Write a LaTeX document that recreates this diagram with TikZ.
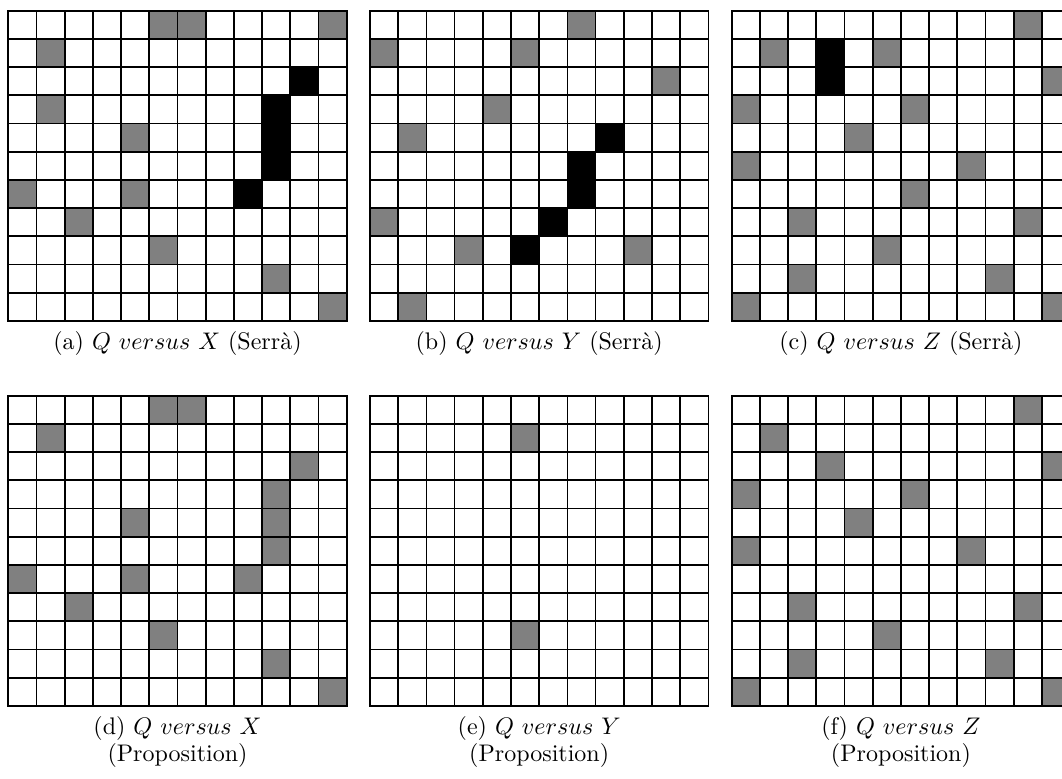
\documentclass[tikz,border=0pt]{standalone}
\usepackage{fontspec}
\tikzset{
  cellgray/.style={fill=gray, draw=black, line width=0.7pt},
  cellblack/.style={fill=black, draw=black, line width=0.7pt},
  gridline/.style={draw=black, line width=0.7pt},
  capt/.style={font=\fontsize{10pt}{9.4pt}\selectfont, align=center, inner sep=0pt},
  panel/.style={x=11.75pt, y=11.75pt},
}
\newcommand\gridlines{%
  \foreach \i in {1,...,11} \draw[gridline] (\i,0) -- (\i,11);
  \foreach \j in {1,...,10} \draw[gridline] (0,\j) -- (12,\j);
  \draw[gridline] (0,0) rectangle (12,11);
}
\begin{document}
\begin{tikzpicture}[x=0.41667pt, y=-0.41667pt]
\useasboundingbox (0,0) rectangle (1062,778);
\clip (0,0) rectangle (1062,778);

% (a)
\begin{scope}[shift={(8.3,320.9)}, panel]
  \foreach \c/\r in {5/0,6/0,11/0,1/1,1/3,4/4,0/6,4/6,2/7,5/8,9/9,11/10}
    \filldraw[cellgray] (\c,10-\r) rectangle ++(1,1);
  \foreach \c/\r in {10/2,9/3,9/4,9/5,8/6}
    \filldraw[cellblack] (\c,10-\r) rectangle ++(1,1);
  \gridlines
\end{scope}
% (b)
\begin{scope}[shift={(370,320.9)}, panel]
  \foreach \c/\r in {7/0,0/1,5/1,10/2,4/3,1/4,0/7,3/8,9/8,1/10}
    \filldraw[cellgray] (\c,10-\r) rectangle ++(1,1);
  \foreach \c/\r in {8/4,7/5,7/6,6/7,5/8}
    \filldraw[cellblack] (\c,10-\r) rectangle ++(1,1);
  \gridlines
\end{scope}
% (c)
\begin{scope}[shift={(731.7,320.9)}, panel]
  \foreach \c/\r in {10/0,1/1,5/1,11/2,0/3,6/3,4/4,0/5,8/5,6/6,2/7,10/7,5/8,2/9,9/9,0/10,11/10}
    \filldraw[cellgray] (\c,10-\r) rectangle ++(1,1);
  \foreach \c/\r in {3/1,3/2}
    \filldraw[cellblack] (\c,10-\r) rectangle ++(1,1);
  \gridlines
\end{scope}
% (d)
\begin{scope}[shift={(8.3,705.9)}, panel]
  \foreach \c/\r in {5/0,6/0,1/1,10/2,9/3,4/4,9/4,9/5,0/6,4/6,8/6,2/7,5/8,9/9,11/10}
    \filldraw[cellgray] (\c,10-\r) rectangle ++(1,1);
  \gridlines
\end{scope}
% (e)
\begin{scope}[shift={(370,705.9)}, panel]
  \foreach \c/\r in {5/1,5/8}
    \filldraw[cellgray] (\c,10-\r) rectangle ++(1,1);
  \gridlines
\end{scope}
% (f)
\begin{scope}[shift={(731.7,705.9)}, panel]
  \foreach \c/\r in {10/0,1/1,3/2,11/2,0/3,6/3,4/4,0/5,8/5,2/7,10/7,5/8,2/9,9/9,0/10,11/10}
    \filldraw[cellgray] (\c,10-\r) rectangle ++(1,1);
  \gridlines
\end{scope}

\node[capt] (capa) at (177.5,343) {(a) $Q$ $versus$ $X$ (Serrà)};
\node[capt] (capb) at (539.2,343) {(b) $Q$ $versus$ $Y$ (Serrà)};
\node[capt] (capc) at (900.9,343) {(c) $Q$ $versus$ $Z$ (Serrà)};
\node[capt] (capd) at (177.5,742) {(d) $Q$ $versus$ $X$\\(Proposition)};
\node[capt] (cape) at (539.2,742) {(e) $Q$ $versus$ $Y$\\(Proposition)};
\node[capt] (capf) at (900.9,742) {(f) $Q$ $versus$ $Z$\\(Proposition)};
\end{tikzpicture}
\end{document}
